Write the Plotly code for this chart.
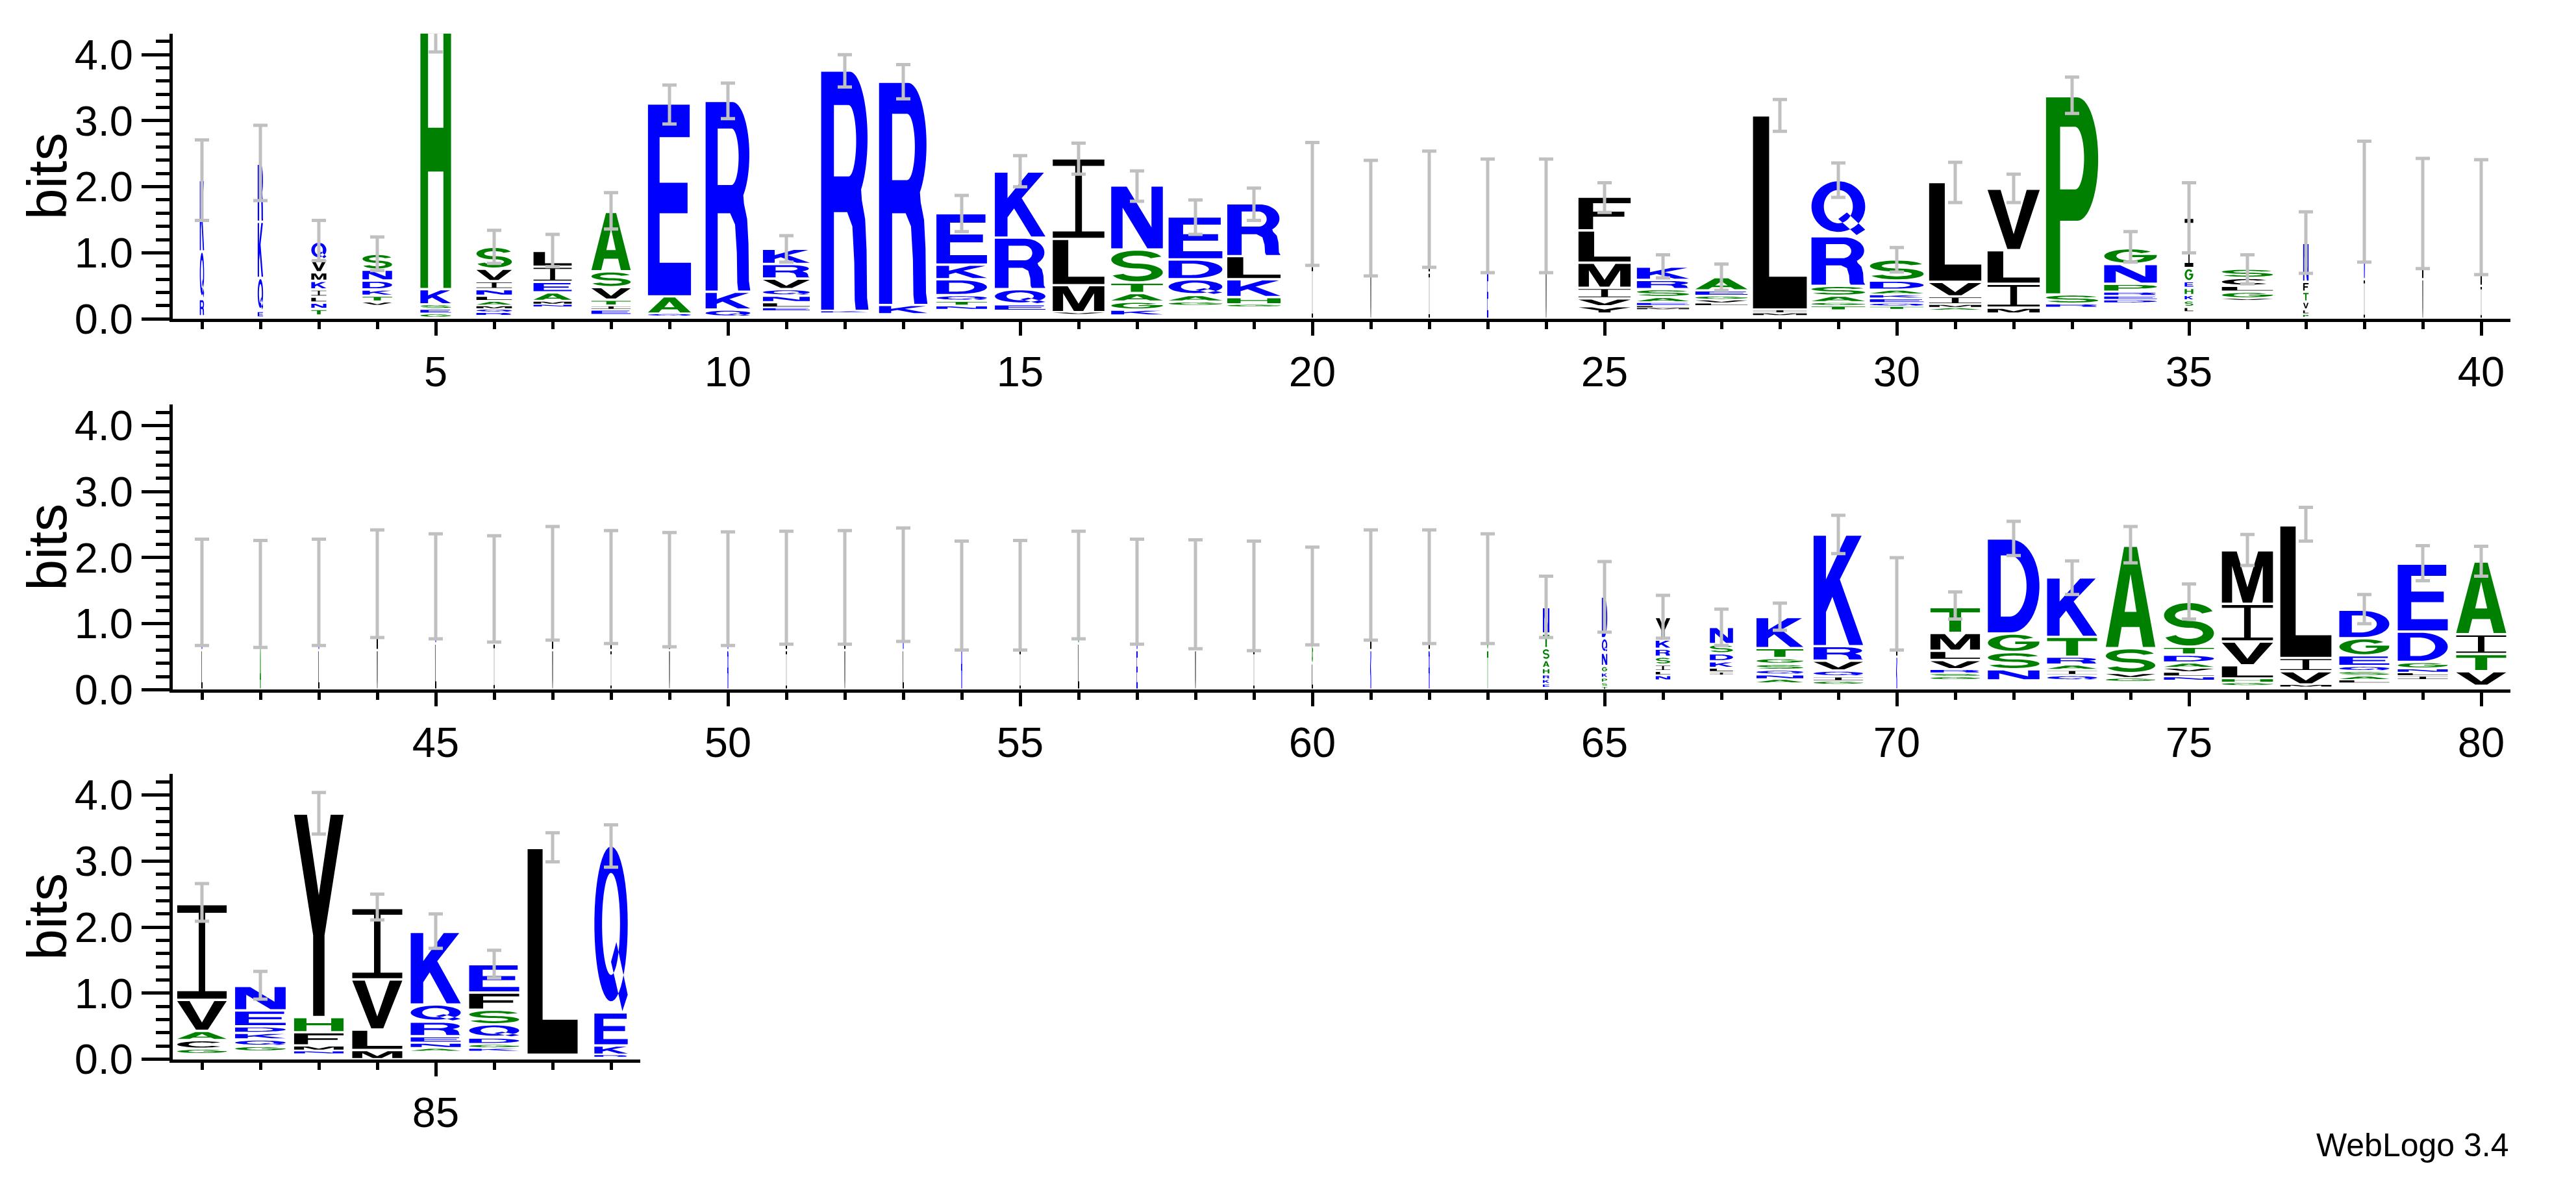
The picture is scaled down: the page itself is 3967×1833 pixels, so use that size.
import numpy as np
import plotly.graph_objects as go

# ---------------- data ----------------
POSITIONS = list(range(1, 89))

# letters of each stack, bottom -> top ('.' = tiny undrawn residue)
LETTERS = [
    ".RQK", ".EQKR", ".TNLIKMVQ", ".VTKDNS", ".GESKH", ".RQMALNIVS", ".NMAEIL", ".EITVSA",
    ".QAE", ".QKR", ".ELNQVRK", ".KR", ".KR", ".NTQDKE", ".EQRK", ".VMLI", ".KGATSN",
    ".GAQDE", ".GHKLR", "IL", "VL", "IL", "EK", "VL", ".YVIMLF", ".MLEASRK", ".LVGEA",
    ".MIL", ".TGASRQ", ".TQEKADS", ".AMIVL", ".MILV", ".RSP", ".DERPNG", ".LSKHEGI",
    ".VGLCS", ".PLVTFN", "IN", "VL", "IL",
    "LR", "AK", "LR", "VL", "LK", "IE", "VL", "IL", "VL", "RK", "IL", "VL", "LK", "RS",
    "IL", "LA", "EK", "VL", "IL", "LGK", "KL", "RL", "TS", ".EKRHASTN", "TSPKGNQD",
    ".NLISRKY", ".ILKDSN", ".ANQSGTK", ".GIQVRK", "KL", ".GSRVLMT", ".NSGD", ".QIARTK",
    ".GVSA", ".NLVADTS", ".GHLVIM", ".MVIL", ".LASQEGD", ".ILNGDE", ".VTIA",
    ".GCAVI", ".GQKDEN", ".NMFHY", "MLVI", ".ANERQK", ".KGDQSFE", ".L", ".RKEQ",
]

# letter heights in bits, same order as LETTERS
HEIGHTS = [
    [0.04, 0.26, 0.72, 1.08], [0.02, 0.1, 0.5, 0.85, 0.88],
    [0.05, 0.1, 0.095, 0.09, 0.11, 0.13, 0.13, 0.195, 0.27],
    [0.2, 0.06, 0.09, 0.095, 0.135, 0.165, 0.24], [0.02, 0.06, 0.07, 0.07, 0.23, 3.95],
    [0.05, 0.05, 0.05, 0.05, 0.07, 0.08, 0.1, 0.12, 0.19, 0.33],
    [0.18, 0.04, 0.05, 0.13, 0.16, 0.23, 0.24], [0.06, 0.08, 0.06, 0.09, 0.19, 0.24, 0.9],
    [0.04, 0.04, 0.26, 2.92], [0.03, 0.11, 0.27, 2.89],
    [0.12, 0.05, 0.08, 0.1, 0.1, 0.16, 0.22, 0.23], [0.09, 0.03, 3.64], [0.07, 0.14, 3.38],
    [0.14, 0.06, 0.07, 0.09, 0.24, 0.22, 0.78], [0.12, 0.1, 0.23, 0.78, 1.0],
    [0.07, 0.03, 0.41, 0.7, 1.22], [0.05, 0.09, 0.12, 0.13, 0.16, 0.5, 0.97],
    [0.2, 0.06, 0.1, 0.24, 0.3, 0.65], [0.18, 0.04, 0.11, 0.27, 0.35, 0.8],
    [0.8, 0.94], [0.7, 0.82], [0.7, 0.96], [0.7, 0.86], [0.7, 0.86],
    [0.08, 0.11, 0.12, 0.16, 0.38, 0.49, 0.51],
    [0.14, 0.03, 0.03, 0.05, 0.08, 0.12, 0.14, 0.2], [0.2, 0.04, 0.05, 0.06, 0.08, 0.2],
    [0.05, 0.04, 0.05, 2.94], [0.13, 0.07, 0.05, 0.1, 0.15, 0.75, 0.85],
    [0.14, 0.05, 0.05, 0.07, 0.06, 0.07, 0.14, 0.32], [0.13, 0.04, 0.05, 0.12, 0.22, 1.51],
    [0.08, 0.09, 0.36, 0.51, 0.93], [0.17, 0.06, 0.14, 3.0],
    [0.24, 0.05, 0.06, 0.06, 0.12, 0.3, 0.24], [0.1, 0.08, 0.1, 0.08, 0.11, 0.1, 0.2, 0.76],
    [0.28, 0.03, 0.1, 0.09, 0.12, 0.14], [0.02, 0.05, 0.07, 0.12, 0.15, 0.15, 0.59],
    [0.6, 1.18], [0.6, 1.0], [0.5, 1.04],
    [0.6, 0.87], [0.7, 0.75], [0.6, 0.87], [0.6, 1.0], [0.7, 0.87], [0.7, 0.83], [0.6, 1.01],
    [0.6, 0.96], [0.6, 0.92], [0.6, 0.93], [0.6, 0.95], [0.6, 0.95], [0.6, 0.99], [0.7, 0.73],
    [0.6, 0.83], [0.7, 0.88], [0.6, 0.89], [0.6, 0.85], [0.6, 0.82], [0.4, 0.4, 0.62],
    [0.6, 0.98], [0.6, 0.96], [0.6, 0.93],
    [0.03, 0.06, 0.07, 0.07, 0.1, 0.12, 0.18, 0.22, 0.4],
    [0.05, 0.06, 0.07, 0.08, 0.1, 0.2, 0.22, 0.63],
    [0.14, 0.08, 0.06, 0.1, 0.12, 0.12, 0.14, 0.34], [0.22, 0.05, 0.06, 0.1, 0.12, 0.14, 0.26],
    [0.1, 0.06, 0.07, 0.07, 0.09, 0.09, 0.15, 0.47], [0.08, 0.05, 0.07, 0.09, 0.15, 0.22, 1.69],
    [0.5, 0.8], [0.15, 0.05, 0.05, 0.06, 0.14, 0.14, 0.27, 0.39], [0.14, 0.17, 0.26, 0.28, 1.44],
    [0.14, 0.08, 0.08, 0.08, 0.12, 0.3, 0.9], [0.12, 0.06, 0.07, 0.38, 1.55],
    [0.14, 0.06, 0.07, 0.06, 0.08, 0.12, 0.12, 0.68], [0.06, 0.05, 0.06, 0.2, 0.36, 0.57, 0.81],
    [0.04, 0.04, 0.2, 0.2, 2.01], [0.1, 0.05, 0.06, 0.07, 0.08, 0.16, 0.26, 0.43],
    [0.15, 0.06, 0.05, 0.06, 0.1, 0.46, 1.03], [0.06, 0.22, 0.26, 0.3, 1.1],
    [0.08, 0.08, 0.13, 0.14, 0.47, 1.45], [0.12, 0.08, 0.1, 0.1, 0.1, 0.24, 0.37],
    [0.08, 0.05, 0.08, 0.2, 0.23, 3.08], [0.14, 0.31, 0.76, 1.08],
    [0.12, 0.05, 0.08, 0.1, 0.22, 0.26, 1.1], [0.12, 0.05, 0.06, 0.1, 0.2, 0.22, 0.26, 0.43],
    [0.07, 3.13], [0.03, 0.04, 0.14, 0.5, 2.53],
]

# relative stack width (fraction of non-gap sequences)
WIDTH_FRAC = [
    0.08, 0.1, 0.28, 0.55, 0.57, 0.66, 0.71, 0.73, 0.8, 0.83, 0.87, 0.88, 0.9, 0.94, 0.94,
    0.96, 0.96, 1.0, 0.99, 0.025, 0.025, 0.025, 0.025, 0.025, 0.97, 0.97, 0.97, 1.0, 1.0, 1.0,
    0.97, 0.97, 0.97, 0.98, 0.16, 0.95, 0.1, 0.025, 0.025, 0.025,
    0.025, 0.025, 0.025, 0.025, 0.025, 0.025, 0.025, 0.025, 0.025, 0.025, 0.025, 0.025, 0.025,
    0.025, 0.025, 0.025, 0.025, 0.025, 0.025, 0.025, 0.025, 0.025, 0.025, 0.12, 0.1, 0.27,
    0.43, 0.87, 0.92, 0.025, 0.92, 0.96, 0.93, 0.92, 0.93, 0.95, 0.95, 0.93, 0.93, 0.93,
    0.92, 0.94, 0.92, 0.93, 0.93, 0.93, 0.93, 0.62,
]

ERR_LO = [
    1.49, 1.79, 0.88, 0.73, 4.04, 0.84, 0.79, 1.36, 2.95, 3.03, 0.86, 3.51, 3.33, 1.32, 2.0,
    2.19, 1.78, 1.28, 1.49, 0.81, 0.65, 0.78, 0.7, 0.7, 1.61, 0.62, 0.43, 2.84, 1.84, 0.71,
    1.76, 1.76, 3.11, 0.86, 1.0, 0.53, 0.69, 0.86, 0.76, 0.67,
    0.67, 0.64, 0.67, 0.79, 0.77, 0.72, 0.75, 0.7, 0.65, 0.67, 0.69, 0.69, 0.73, 0.6, 0.6,
    0.77, 0.69, 0.62, 0.59, 0.68, 0.75, 0.7, 0.7, 0.79, 0.87, 0.78, 0.67, 0.9, 2.06, 0.6,
    1.07, 2.03, 1.44, 1.92, 1.07, 1.88, 2.25, 1.0, 1.65, 1.72,
    2.09, 0.91, 3.41, 2.11, 1.68, 1.23, 2.99, 2.91,
]
ERR_HI = [
    2.71, 2.93, 1.49, 1.24, 4.34, 1.34, 1.28, 1.91, 3.54, 3.57, 1.26, 4.0, 3.85, 1.87, 2.47,
    2.66, 2.24, 1.8, 1.98, 2.67, 2.4, 2.54, 2.42, 2.42, 2.06, 0.97, 0.83, 3.32, 2.36, 1.08,
    2.37, 2.19, 3.66, 1.32, 2.06, 0.97, 1.62, 2.69, 2.43, 2.41,
    2.28, 2.26, 2.28, 2.42, 2.36, 2.33, 2.47, 2.41, 2.38, 2.39, 2.4, 2.41, 2.45, 2.25, 2.26,
    2.4, 2.28, 2.27, 2.25, 2.16, 2.42, 2.42, 2.36, 1.72, 1.94, 1.43, 1.22, 1.31, 2.64, 2.0,
    1.48, 2.55, 1.95, 2.47, 1.6, 2.35, 2.76, 1.44, 2.18, 2.17,
    2.66, 1.33, 4.04, 2.5, 2.2, 1.65, 3.43, 3.55,
]

ROW_SPANS = [(1, 40), (41, 80), (81, 88)]
Y_MAX = 4.32
Y_TICKS = [0, 1, 2, 3, 4]

# ---------------- style ----------------
W_PX, H_PX = 3967, 1833
FONT = "Liberation Sans, Arial, sans-serif"
BLUE, GREEN, BLACK = "#0000ff", "#008000", "#000000"
COLORS = {}
COLORS.update({c: BLUE for c in "RKDENQ"})
COLORS.update({c: GREEN for c in "SGHTAP"})
COLORS.update({c: BLACK for c in "YVMCLFIWO"})
ERR_COLOR = "#c0c0c0"
FULL_W = 0.92          # stack width (x units) for a full column
X_LEFT_PX = 266
PX_PER_POS = 90
ROW_BASE_PX = [499, 1083, 1665]
PX_PER_BIT = 104


# ---------------- glyph outlines (unit box) ----------------
def arc(cx, cy, rx, ry, a0, a1, n=28):
    t = np.radians(np.linspace(a0, a1, n))
    return list(zip(cx + rx * np.cos(t), cy + ry * np.sin(t)))


def ring(cx, cy, rxo, ryo, rxi, ryi, a0, a1, n=36):
    return arc(cx, cy, rxo, ryo, a0, a1, n) + arc(cx, cy, rxi, ryi, a1, a0, n)


def glyph(ch):
    """Return (outer polygons, hole polygons) in unit box."""
    if ch == "A":
        return ([[(0, 0), (0.25, 0), (0.32, 0.2), (0.68, 0.2), (0.75, 0), (1, 0), (0.63, 1), (0.37, 1)]],
                [[(0.38, 0.35), (0.62, 0.35), (0.5, 0.73)]])
    if ch == "C":
        return [ring(0.5, 0.5, 0.5, 0.5, 0.27, 0.33, 42, 318)], []
    if ch == "D":
        o = [(0, 0), (0.45, 0)] + arc(0.45, 0.5, 0.55, 0.5, -90, 90) + [(0.45, 1), (0, 1)]
        h = [(0.25, 0.17), (0.42, 0.17)] + arc(0.42, 0.5, 0.33, 0.33, -90, 90) + [(0.42, 0.83), (0.25, 0.83)]
        return [o], [h]
    if ch == "E":
        return [[(0, 0), (1, 0), (1, 0.17), (0.27, 0.17), (0.27, 0.43), (0.92, 0.43), (0.92, 0.59),
                 (0.27, 0.59), (0.27, 0.83), (0.97, 0.83), (0.97, 1), (0, 1)]], []
    if ch == "F":
        return [[(0, 0), (0.28, 0), (0.28, 0.4), (0.88, 0.4), (0.88, 0.56), (0.28, 0.56), (0.28, 0.83),
                 (1, 0.83), (1, 1), (0, 1)]], []
    if ch == "G":
        o = (arc(0.5, 0.5, 0.5, 0.5, 40, 350) + [(1, 0.58), (0.53, 0.58), (0.53, 0.43), (0.76, 0.43)]
             + arc(0.5, 0.5, 0.27, 0.33, 345, 40))
        return [o], []
    if ch == "H":
        return [[(0, 0), (0.25, 0), (0.25, 0.45), (0.75, 0.45), (0.75, 0), (1, 0), (1, 1), (0.75, 1),
                 (0.75, 0.62), (0.25, 0.62), (0.25, 1), (0, 1)]], []
    if ch == "I":
        t, s = 0.08, 0.065
        return [[(0, 0), (1, 0), (1, t), (0.5 + s, t), (0.5 + s, 1 - t), (1, 1 - t), (1, 1), (0, 1),
                 (0, 1 - t), (0.5 - s, 1 - t), (0.5 - s, t), (0, t)]], []
    if ch == "K":
        return [[(0, 0), (0.25, 0), (0.25, 0.3), (0.38, 0.44), (0.72, 0), (1, 0), (0.53, 0.6), (0.97, 1),
                 (0.66, 1), (0.25, 0.6), (0.25, 1), (0, 1)]], []
    if ch == "L":
        return [[(0, 0), (1, 0), (1, 0.165), (0.3, 0.165), (0.3, 1), (0, 1)]], []
    if ch == "M":
        return [[(0, 0), (0.2, 0), (0.2, 0.72), (0.41, 0), (0.59, 0), (0.8, 0.72), (0.8, 0), (1, 0),
                 (1, 1), (0.71, 1), (0.5, 0.3), (0.29, 1), (0, 1)]], []
    if ch == "N":
        return [[(0, 0), (0.22, 0), (0.22, 0.66), (0.7, 0), (1, 0), (1, 1), (0.78, 1), (0.78, 0.34),
                 (0.3, 1), (0, 1)]], []
    if ch == "P":
        o = [(0, 0), (0.27, 0), (0.27, 0.37), (0.6, 0.37)] + arc(0.6, 0.685, 0.4, 0.315, -90, 90) + [(0.6, 1), (0, 1)]
        h = [(0.27, 0.53), (0.56, 0.53)] + arc(0.56, 0.69, 0.17, 0.16, -90, 90) + [(0.56, 0.85), (0.27, 0.85)]
        return [o], [h]
    if ch in "QO":
        o = arc(0.5, 0.53, 0.5, 0.47, 0, 360, 48)[:-1]
        h = arc(0.5, 0.53, 0.27, 0.31, 0, 360, 48)[:-1]
        outs = [o]
        if ch == "Q":
            outs.append([(0.5, 0.3), (0.66, 0.42), (1.0, 0.1), (0.84, 0.0)])
        return outs, [h]
    if ch == "R":
        o = ([(0, 0), (0.27, 0), (0.27, 0.41), (0.55, 0.41), (0.66, 0.35), (0.7, 0.2), (0.71, 0.04),
              (0.73, 0), (1, 0), (0.97, 0.05), (0.96, 0.25), (0.93, 0.38), (0.86, 0.46)]
             + arc(0.6, 0.72, 0.38, 0.28, -50, 90) + [(0.6, 1), (0, 1)])
        h = [(0.27, 0.56), (0.58, 0.56)] + arc(0.58, 0.71, 0.16, 0.15, -90, 90) + [(0.58, 0.86), (0.27, 0.86)]
        return [o], [h]
    if ch == "S":
        p = (arc(0.5, 0.71, 0.5, 0.29, 20, 270) + arc(0.5, 0.29, 0.28, 0.13, 90, -160)
             + arc(0.5, 0.29, 0.5, 0.29, -160, 90) + arc(0.5, 0.71, 0.28, 0.13, 270, 20))
        return [p], []
    if ch == "T":
        return [[(0.38, 0), (0.62, 0), (0.62, 0.83), (1, 0.83), (1, 1), (0, 1), (0, 0.83), (0.38, 0.83)]], []
    if ch == "V":
        return [[(0, 1), (0.38, 0), (0.62, 0), (1, 1), (0.75, 1), (0.5, 0.25), (0.25, 1)]], []
    if ch == "W":
        return [[(0, 1), (0.2, 0), (0.41, 0), (0.5, 0.58), (0.59, 0), (0.8, 0), (1, 1), (0.8, 1),
                 (0.69, 0.35), (0.6, 1), (0.4, 1), (0.31, 0.35), (0.2, 1)]], []
    if ch == "Y":
        return [[(0, 1), (0.385, 0.4), (0.385, 0), (0.615, 0), (0.615, 0.4), (1, 1), (0.74, 1),
                 (0.5, 0.6), (0.26, 1)]], []
    return [[(0, 0), (1, 0), (1, 1), (0, 1)]], []


def signed_area(p):
    x = np.array([q[0] for q in p])
    y = np.array([q[1] for q in p])
    return 0.5 * np.sum(x * np.roll(y, -1) - np.roll(x, -1) * y)


def oriented(p, ccw):
    return p if (signed_area(p) > 0) == ccw else p[::-1]


def glyph_path(ch, xc, y0, w, h):
    pad = min(0.018, 0.2 * h)
    hh = h - 2 * pad
    outs, holes = glyph(ch)
    parts = []
    for poly, ccw in [(p, True) for p in outs] + [(p, False) for p in holes]:
        pts = oriented(poly, ccw)
        coords = ["%.4f,%.4f" % (xc + w * (u - 0.5), y0 + pad + hh * v) for u, v in pts]
        parts.append("M" + " L".join(coords) + " Z")
    return " ".join(parts)


# ---------------- build figure ----------------
fig = go.Figure()
shapes = []
annotations = []
layout = {}

for r, (p0, p1) in enumerate(ROW_SPANS):
    sfx = "" if r == 0 else str(r + 1)
    xref, yref = "x" + sfx, "y" + sfx
    idx = [i for i, p in enumerate(POSITIONS) if p0 <= p <= p1]

    for i in idx:
        xc = POSITIONS[i]
        w = FULL_W * WIDTH_FRAC[i]
        y = 0.0
        for ch, h in zip(LETTERS[i], HEIGHTS[i]):
            if ch != ".":
                shapes.append(dict(type="path", xref=xref, yref=yref, path=glyph_path(ch, xc, y, w, h),
                                   fillcolor=COLORS[ch], line=dict(width=0), layer="below"))
            y += h

    xs = [POSITIONS[i] for i in idx]
    mid = [(ERR_LO[i] + ERR_HI[i]) / 2 for i in idx]
    half = [(ERR_HI[i] - ERR_LO[i]) / 2 for i in idx]
    fig.add_trace(go.Scatter(
        x=xs, y=mid, mode="markers", xaxis=xref, yaxis=yref,
        marker=dict(size=2, color="rgba(0,0,0,0)"),
        error_y=dict(type="data", array=half, symmetric=True, color=ERR_COLOR, thickness=5, width=11),
        hoverinfo="skip", cliponaxis=False, showlegend=False))

    n = p1 - p0 + 1
    x_dom = [X_LEFT_PX / W_PX, (X_LEFT_PX + n * PX_PER_POS) / W_PX]
    base = ROW_BASE_PX[r]
    y_dom = [1 - base / H_PX, 1 - (base - Y_MAX * PX_PER_BIT) / H_PX]

    layout["xaxis" + sfx] = dict(
        domain=x_dom, range=[p0 - 0.5, p1 + 0.5], anchor=yref,
        showline=True, linewidth=5, linecolor="black", mirror=False,
        tickmode="linear", tick0=0, dtick=5, ticks="outside", ticklen=21, tickwidth=5, tickcolor="black",
        tickfont=dict(family=FONT, size=65, color="black"),
        minor=dict(ticks="outside", ticklen=11, tickwidth=5, tickcolor="black", dtick=1, tick0=0, showgrid=False),
        showgrid=False, zeroline=False, fixedrange=True)
    layout["yaxis" + sfx] = dict(
        domain=y_dom, range=[0, Y_MAX], anchor=xref,
        showline=True, linewidth=5, linecolor="black",
        tickmode="array", tickvals=Y_TICKS, ticktext=["%.1f" % v for v in Y_TICKS],
        ticks="outside", ticklen=43, tickwidth=5, tickcolor="black",
        tickfont=dict(family=FONT, size=65, color="black"),
        minor=dict(ticks="outside", ticklen=21, tickwidth=5, tickcolor="black", dtick=0.2, tick0=0, showgrid=False),
        showgrid=False, zeroline=False, fixedrange=True)

    annotations.append(dict(text="bits", textangle=-90, xref="paper", yref="paper",
                            x=72 / W_PX, y=(y_dom[0] + y_dom[1]) / 2, xanchor="center", yanchor="middle",
                            showarrow=False, font=dict(family=FONT, size=86, color="black")))

annotations.append(dict(text="WebLogo 3.4", xref="paper", yref="paper", x=3866 / W_PX, y=1 - 1800 / H_PX,
                        xanchor="right", yanchor="middle", showarrow=False,
                        font=dict(family=FONT, size=50, color="black")))

fig.update_layout(width=W_PX, height=H_PX, margin=dict(l=0, r=0, t=0, b=0),
                  paper_bgcolor="white", plot_bgcolor="white", showlegend=False,
                  shapes=shapes, annotations=annotations, **layout)

fig.write_html("out.html")
